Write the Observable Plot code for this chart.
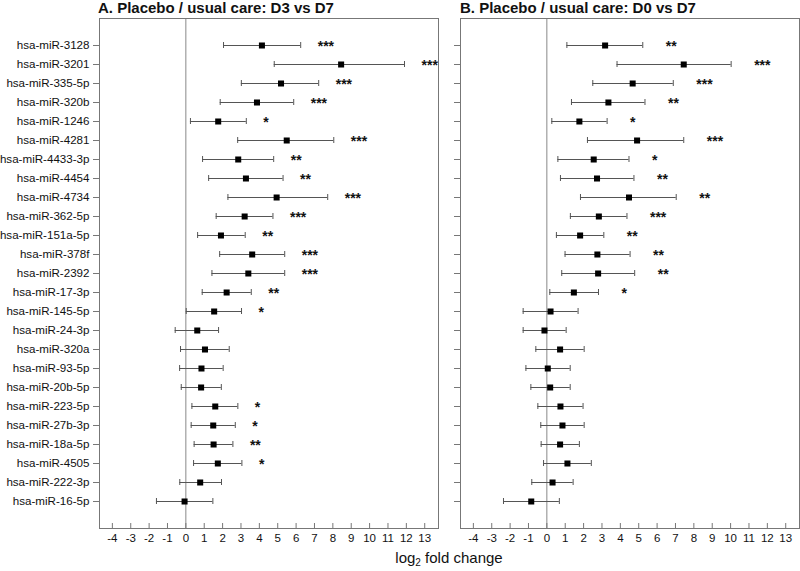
<!DOCTYPE html>
<html>
<head>
<meta charset="utf-8">
<script src="https://cdn.jsdelivr.net/npm/d3@7"></script>
<script src="https://cdn.jsdelivr.net/npm/@observablehq/plot@0.6"></script>
<style>
  body { margin: 0; background: #fff; font-family: "Liberation Sans", Arial, sans-serif; }
  #wrap { position: relative; width: 800px; height: 571px; overflow: hidden; background: #fff; }
  .panel { position: absolute; top: 0; z-index: 1; }
  .title { position: absolute; top: 0px; font-size: 15px; line-height: 15px; font-weight: bold; color: #111; white-space: nowrap; z-index: 2; }
  .xlabel { position: absolute; top: 550px; left: 349px; width: 200px; text-align: center; font-size: 15px; line-height: 15px; color: #111; z-index: 2; }
  .xlabel sub { font-size: 10px; vertical-align: -3px; line-height: 0; }
</style>
</head>
<body>
<div id="wrap">
  <div class="panel" id="pA" style="left:0px"></div>
  <div class="panel" id="pB" style="left:440px"></div>
  <div class="title" style="left:98px">A. Placebo / usual care: D3 vs D7</div>
  <div class="title" style="left:460px">B. Placebo / usual care: D0 vs D7</div>
  <div class="xlabel">log<sub>2</sub> fold change</div>
</div>
<script>
const mirna = ["hsa-miR-3128","hsa-miR-3201","hsa-miR-335-5p","hsa-miR-320b","hsa-miR-1246","hsa-miR-4281","hsa-miR-4433-3p","hsa-miR-4454","hsa-miR-4734","hsa-miR-362-5p","hsa-miR-151a-5p","hsa-miR-378f","hsa-miR-2392","hsa-miR-17-3p","hsa-miR-145-5p","hsa-miR-24-3p","hsa-miR-320a","hsa-miR-93-5p","hsa-miR-20b-5p","hsa-miR-223-5p","hsa-miR-27b-3p","hsa-miR-18a-5p","hsa-miR-4505","hsa-miR-222-3p","hsa-miR-16-5p"];

// Panel A: D3 vs D7
const fcA  = [4.14, 8.45, 5.18, 3.87, 1.76, 5.49, 2.85, 3.27, 4.94, 3.20, 1.91, 3.61, 3.40, 2.22, 1.54, 0.62, 1.04, 0.85, 0.83, 1.60, 1.49, 1.51, 1.74, 0.78, -0.07];
const loA  = [2.05, 4.81, 3.02, 1.87, 0.25, 2.82, 0.91, 1.24, 2.29, 1.65, 0.64, 1.84, 1.42, 0.89, 0.02, -0.58, -0.29, -0.34, -0.25, 0.33, 0.29, 0.45, 0.42, -0.33, -1.60];
const hiA  = [6.25, 11.90, 7.23, 5.87, 3.29, 8.05, 4.78, 5.29, 7.72, 4.74, 3.23, 5.38, 5.38, 3.56, 3.03, 1.78, 2.36, 2.03, 1.93, 2.83, 2.69, 2.56, 3.05, 1.94, 1.47];
const sigA = ["***","***","***","***","*","***","**","**","***","***","**","***","***","**","*","","","","","*","*","**","*","",""];

// Panel B: D0 vs D7
const fcB  = [3.17, 7.45, 4.67, 3.35, 1.77, 4.91, 2.55, 2.73, 4.47, 2.83, 1.81, 2.75, 2.79, 1.47, 0.20, -0.13, 0.72, 0.05, 0.18, 0.74, 0.85, 0.72, 1.12, 0.31, -0.85];
const loB  = [1.09, 3.82, 2.50, 1.34, 0.27, 2.21, 0.60, 0.74, 1.83, 1.28, 0.52, 0.99, 0.81, 0.16, -1.29, -1.29, -0.60, -1.14, -0.87, -0.49, -0.33, -0.31, -0.18, -0.82, -2.36];
const hiB  = [5.22, 10.03, 6.88, 5.34, 3.28, 7.45, 4.47, 4.74, 7.04, 4.36, 3.10, 4.53, 4.78, 2.81, 1.70, 1.05, 2.03, 1.27, 1.27, 1.97, 2.03, 1.77, 2.42, 1.43, 0.68];
const sigB = ["**","***","***","**","*","***","*","**","**","***","**","**","**","*","","","","","","","","","","",""];

const xTicks = [-4,-3,-2,-1,0,1,2,3,4,5,6,7,8,9,10,11,12,13];
const xDomain = [-4.7, 13.75];

function rowsOf(fc, lo, hi, sig) {
  return mirna.map((name, i) => ({name, fc: fc[i], lo: lo[i], hi: hi[i], sig: sig[i]}));
}

function panel(data, {width, marginLeft, marginRight, showLabels, starDx}) {
  return Plot.plot({
    width, height: 571,
    marginLeft, marginRight, marginTop: 18, marginBottom: 43,
    style: {fontFamily: '"Liberation Sans", Arial, sans-serif', color: "#111", background: "transparent"},
    x: {domain: xDomain, ticks: xTicks},
    y: {type: "band", domain: mirna, paddingInner: 0.7, paddingOuter: 0.8},
    marks: [
      Plot.ruleX([0], {stroke: "#888", strokeWidth: 1}),
      Plot.ruleY(data, {y: "name", x1: "lo", x2: "hi", stroke: "#555", strokeWidth: 1}),
      Plot.tickX(data, {x: "lo", y: "name", stroke: "#555", strokeWidth: 1}),
      Plot.tickX(data, {x: "hi", y: "name", stroke: "#555", strokeWidth: 1}),
      Plot.dot(data, {x: "fc", y: "name", symbol: "square", r: 3.4, fill: "#000", stroke: null}),
      Plot.text(data, {x: "hi", y: "name", text: "sig", dx: starDx, dy: 1, textAnchor: "start", fontSize: 14, fontWeight: "bold", fill: "#111"}),
      Plot.ruleX(xTicks, {insetTop: 505, stroke: "#777"}),
      Plot.frame({stroke: "#777", strokeWidth: 1}),
      Plot.axisX({ticks: xTicks, tickSize: 0, tickPadding: 5, fontSize: 11.5, label: null, tickFormat: d => String(d)}),
      Plot.axisY({tickSize: 6, tickPadding: 4, fontSize: 11.6, label: null, stroke: "#777",
                  tickFormat: showLabels ? (d => d) : (() => "")})
    ]
  });
}

document.getElementById("pA").append(panel(rowsOf(fcA, loA, hiA, sigA), {width: 440, marginLeft: 99, marginRight: 2, showLabels: true, starDx: 17}));
document.getElementById("pB").append(panel(rowsOf(fcB, loB, hiB, sigB), {width: 360, marginLeft: 20, marginRight: 1, showLabels: false, starDx: 23}));
</script>
</body>
</html>
